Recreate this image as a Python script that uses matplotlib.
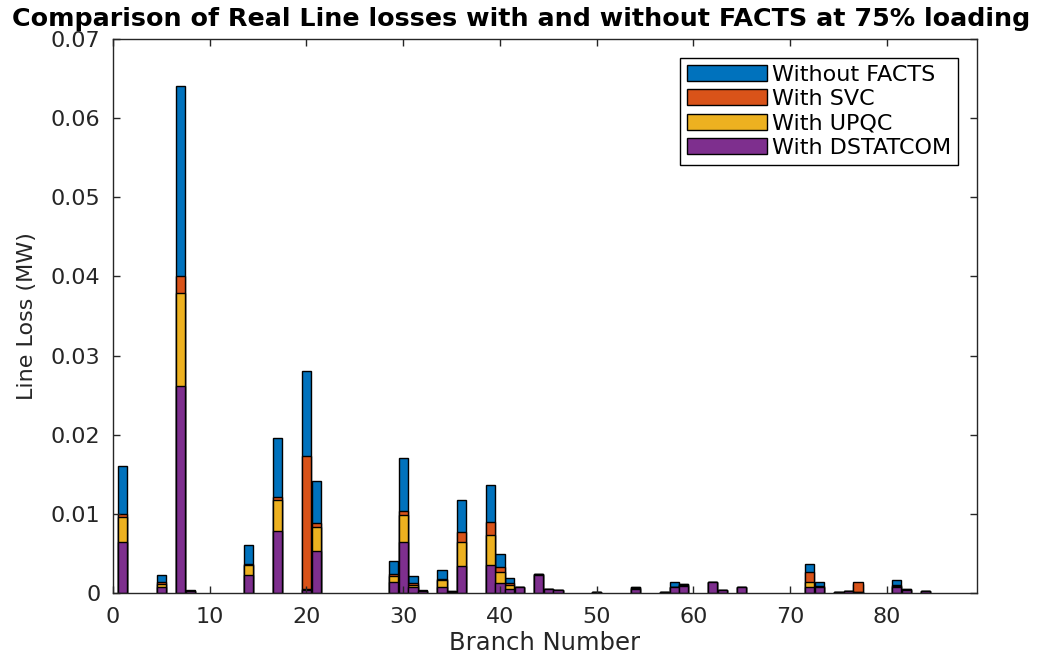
import matplotlib.pyplot as plt
import numpy as np

# branch numbers with a visible loss, and the four loss series (MW)
branches = [1, 5, 7, 8, 14, 17, 20, 21, 29, 30, 31, 32, 34, 35, 36, 39, 40, 41, 42,
            44, 45, 46, 50, 54, 57, 58, 59, 62, 63, 65, 72, 73, 75, 76, 77, 81, 82, 84]
without_facts = [0.0160, 0.0023, 0.0641, 0.0004, 0.0061, 0.0196, 0.0280, 0.0141, 0.0041, 0.0170,
                 0.0021, 0.0004, 0.0029, 0.0002, 0.0117, 0.0137, 0.0049, 0.0019, 0.0008,
                 0.0024, 0.0005, 0.0004, 0.0001, 0.0008, 0.0001, 0.0014, 0.0012, 0.0014, 0.0004,
                 0.0008, 0.0037, 0.0014, 0.0001, 0.0003, 0.0012, 0.0016, 0.0005, 0.0002]
with_svc = [0.0100, 0.0014, 0.0400, 0.0003, 0.0037, 0.0121, 0.0173, 0.0088, 0.0024, 0.0104,
            0.0013, 0.0003, 0.0018, 0.0002, 0.0077, 0.0090, 0.0033, 0.0013, 0.0008,
            0.0024, 0.0005, 0.0004, 0.0001, 0.0007, 0.0001, 0.0008, 0.0011, 0.0014, 0.0004,
            0.0008, 0.0026, 0.0009, 0.0001, 0.0003, 0.0014, 0.0010, 0.0005, 0.0002]
with_upqc = [0.0096, 0.0012, 0.0379, 0.0003, 0.0035, 0.0117, 0.0005, 0.0084, 0.0022, 0.0099,
             0.0010, 0.0002, 0.0016, 0.0001, 0.0065, 0.0073, 0.0026, 0.0010, 0.0008,
             0.0024, 0.0005, 0.0004, 0.0001, 0.0006, 0.0001, 0.0007, 0.0010, 0.0014, 0.0004,
             0.0008, 0.0014, 0.0008, 0.0001, 0.0002, 0.0001, 0.0009, 0.0004, 0.0002]
with_dstatcom = [0.0065, 0.0008, 0.0262, 0.0002, 0.0023, 0.0078, 0.0004, 0.0053, 0.0014, 0.0064,
                 0.0008, 0.0002, 0.0008, 0.0001, 0.0034, 0.0036, 0.0013, 0.0005, 0.0008,
                 0.0023, 0.0005, 0.0004, 0.0001, 0.0005, 0.0001, 0.0007, 0.0009, 0.0014, 0.0004,
                 0.0008, 0.0007, 0.0008, 0.0001, 0.0002, 0.0001, 0.0008, 0.0004, 0.0002]

series_names = ["Without FACTS", "With SVC", "With UPQC", "With DSTATCOM"]
colors = ["#0072BD", "#D95319", "#EDB120", "#7E2F8E"]
yticks = [0, 0.01, 0.02, 0.03, 0.04, 0.05, 0.06, 0.07]
ytick_labels = ["0", "0.01", "0.02", "0.03", "0.04", "0.05", "0.06", "0.07"]
xticks = [0, 10, 20, 30, 40, 50, 60, 70, 80]

plt.rcParams['font.family'] = ['DejaVu Sans']

fig = plt.figure(figsize=(10.53, 6.64), dpi=100)
ax = fig.add_axes([0.1073, 0.1069, 0.8205, 0.8344])

all_series = [without_facts, with_svc, with_upqc, with_dstatcom]
for vals, name, col in zip(all_series, series_names, colors):
    # overlapping bars, later series drawn over earlier ones (like MATLAB hold on)
    ax.bar(branches, vals, width=0.95, color=col, edgecolor="black", linewidth=1.0, label=name)

ax.set_xlim(0, 89.3)
ax.set_ylim(0, 0.07)
ax.set_xticks(xticks)
ax.set_yticks(yticks)
ax.set_yticklabels(ytick_labels)
ax.tick_params(direction="in", length=5, width=1, top=True, right=True, labelsize=16,
               colors="#262626")
ax.tick_params(axis="x", pad=10)
ax.tick_params(axis="y", pad=9)
for sp in ax.spines.values():
    sp.set_linewidth(1.0)
    sp.set_color("#262626")

ax.set_xlabel("Branch Number", fontsize=17.5, color="#262626", labelpad=3)
ax.set_ylabel("Line Loss (MW)", fontsize=16, color="#262626", labelpad=10)
ax.set_title("Comparison of Real Line losses with and without FACTS at 75% loading",
             fontsize=18.3, fontweight="bold", x=0.472, pad=9)

leg = ax.legend(loc="upper right", fontsize=16, frameon=True, fancybox=False,
                edgecolor="black", framealpha=1, handlelength=3.6, handleheight=0.75,
                handletextpad=0.25, labelspacing=0.2, borderpad=0.3, borderaxespad=0.85)
leg.get_frame().set_linewidth(1.0)

fig.savefig("out.png", dpi=100)
